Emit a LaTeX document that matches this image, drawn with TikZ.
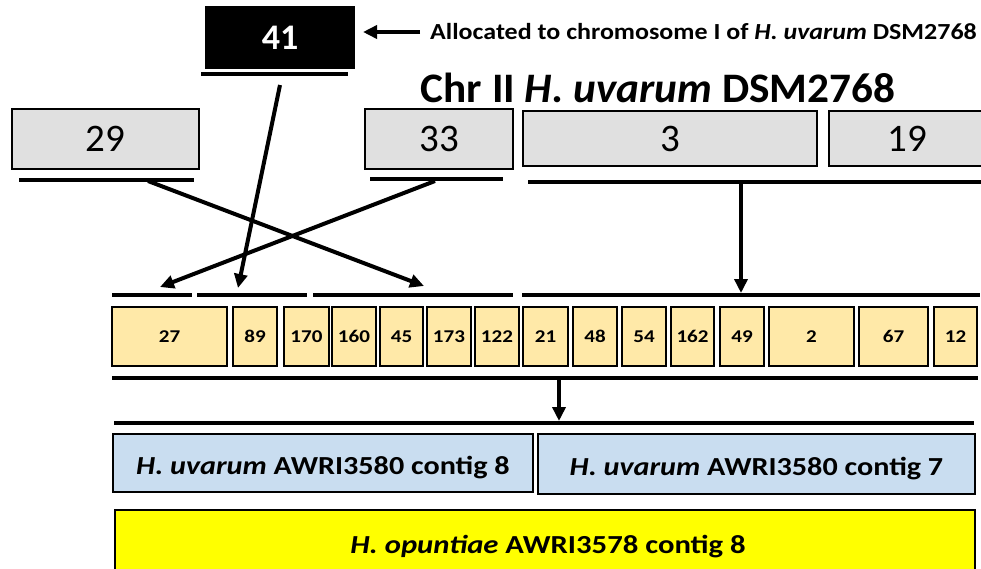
\documentclass[tikz,border=0pt]{standalone}
\usepackage{fontspec}
\usepackage{graphicx}
\setmainfont{Carlito}
\usetikzlibrary{arrows.meta}
\definecolor{grayfill}{RGB}{224,224,224}
\definecolor{yfill}{RGB}{255,233,168}
\definecolor{bfill}{RGB}{201,221,240}
\definecolor{yellowfill}{RGB}{255,255,0}
\newcommand{\bx}[7]{\node[#2, minimum width={#5-#3}, minimum height={#6-#4}] (#1) at ({(#3+#5)/2},{(#4+#6)/2}) {#7};}
\newcommand{\sq}[1]{\scalebox{1.17}[1]{#1}}
\newcommand{\sqb}[1]{\scalebox{1.16}[1]{#1}}
\begin{document}
\begin{tikzpicture}[x=1pt,y=-1pt,
  basebox/.style={draw=black, rectangle, inner sep=0pt, anchor=center},
  bigbox/.style={basebox, line width=2pt, fill=grayfill, font=\fontsize{39}{41}\selectfont},
  blackbox/.style={basebox, line width=2pt, fill=black, text=white, font=\fontsize{36}{38}\selectfont\bfseries},
  smallbox/.style={basebox, line width=2pt, fill=yfill, text height=12pt, text depth=0pt, font=\fontsize{18}{20}\selectfont\bfseries},
  contigbox/.style={basebox, line width=2pt, fill=bfill, text height=22.5pt, text depth=0pt, font=\fontsize{26}{28}\selectfont\bfseries},
  opbox/.style={basebox, line width=2pt, fill=yellowfill},
  bar/.style={line width=4.5pt},
  arr/.style={line width=4pt, -{Triangle[length=14pt,width=13pt]}}
]
\useasboundingbox (0,0) rectangle (981,568);
% top boxes
\bx{b41}{blackbox}{206}{7}{354}{68}{41}
\bx{b29}{bigbox}{12}{109}{199}{169}{29}
\bx{b33}{bigbox}{365}{109}{513}{169}{33}
\bx{b3}{bigbox}{523}{111}{817}{166}{3}
\bx{b19}{bigbox}{829}{111}{985}{166}{19}
% labels
\node[anchor=base west, inner sep=0pt, font=\fontsize{23}{25}\selectfont\bfseries] (alloc) at (430,39) {\scalebox{1.13}[1]{Allocated to chromosome I of \textit{H. uvarum} DSM2768}};
\node[anchor=base, inner sep=0pt, font=\fontsize{42}{44}\selectfont\bfseries] (title) at (658,102) {\scalebox{1.03}[1]{Chr II \textit{H. uvarum} DSM2768}};
\coordinate (aS) at (420,32); \coordinate (aE) at (363,32);
\draw[arr] (aS) -- (aE);
% top bars
\coordinate (t41a) at (201,74); \coordinate (t41b) at (348,74);
\coordinate (t29a) at (19,180); \coordinate (t29b) at (194,180);
\coordinate (t33a) at (370,179); \coordinate (t33b) at (503,179);
\coordinate (t3a) at (528,182); \coordinate (t3b) at (990,182);
\draw[bar] (t41a) -- (t41b);
\draw[bar] (t29a) -- (t29b);
\draw[bar] (t33a) -- (t33b);
\draw[bar] (t3a) -- (t3b);
% middle bars
\coordinate (m1a) at (112,295); \coordinate (m1b) at (192,295);
\coordinate (m2a) at (197,295); \coordinate (m2b) at (307,295);
\coordinate (m3a) at (313,295); \coordinate (m3b) at (513,295);
\coordinate (m4a) at (522,295); \coordinate (m4b) at (980,295);
\draw[bar] (m1a) -- (m1b);
\draw[bar] (m2a) -- (m2b);
\draw[bar] (m3a) -- (m3b);
\draw[bar] (m4a) -- (m4b);
% small boxes
\bx{s27}{smallbox}{112}{307}{227}{366}{\sq{27}}
\bx{s89}{smallbox}{233}{307}{277}{366}{\sq{89}}
\bx{s170}{smallbox}{284}{307}{329}{366}{\sq{170}}
\bx{s160}{smallbox}{332}{307}{376}{366}{\sq{160}}
\bx{s45}{smallbox}{380}{307}{423}{366}{\sq{45}}
\bx{s173}{smallbox}{427}{307}{471}{366}{\sq{173}}
\bx{s122}{smallbox}{475}{307}{519}{366}{\sq{122}}
\bx{s21}{smallbox}{523}{307}{568}{366}{\sq{21}}
\bx{s48}{smallbox}{573}{307}{617}{366}{\sq{48}}
\bx{s54}{smallbox}{622}{307}{666}{366}{\sq{54}}
\bx{s162}{smallbox}{671}{307}{714}{366}{\sq{162}}
\bx{s49}{smallbox}{720}{307}{764}{366}{\sq{49}}
\bx{s2}{smallbox}{769}{307}{854}{366}{\sq{2}}
\bx{s67}{smallbox}{859}{307}{928}{366}{\sq{67}}
\bx{s12}{smallbox}{934}{307}{977}{366}{\sq{12}}
% lower bars
\coordinate (l1a) at (112,378); \coordinate (l1b) at (978,378);
\coordinate (l2a) at (114,423); \coordinate (l2b) at (974,423);
\draw[bar] (l1a) -- (l1b);
\draw[bar] (l2a) -- (l2b);
% arrows
\coordinate (c29) at (148,181); \coordinate (e29) at (424,286);
\coordinate (c33) at (435,181); \coordinate (e33) at (160,287);
\coordinate (c41) at (280,85); \coordinate (e41) at (238,288);
\coordinate (c3) at (741,184); \coordinate (e3) at (741,293);
\coordinate (cl) at (559,380); \coordinate (el) at (559,421);
\draw[arr] (c29) -- (e29);
\draw[arr] (c33) -- (e33);
\draw[arr] (c41) -- (e41);
\draw[arr] (c3) -- (e3);
\draw[arr] (cl) -- (el);
% bottom boxes
\bx{c8}{contigbox}{113}{434}{533}{492}{\sqb{\textit{H. uvarum} AWRI3580 contig 8}}
\bx{c7}{contigbox}{538}{434}{975}{494}{\sqb{\textit{H. uvarum} AWRI3580 contig 7}}
\bx{op}{opbox}{115}{510}{975}{588}{}
\node[anchor=base, inner sep=0pt, font=\fontsize{26}{28}\selectfont\bfseries] (optext) at (548,553) {\scalebox{1.18}[1]{\textit{H. opuntiae} AWRI3578 contig 8}};
\end{tikzpicture}
\end{document}
